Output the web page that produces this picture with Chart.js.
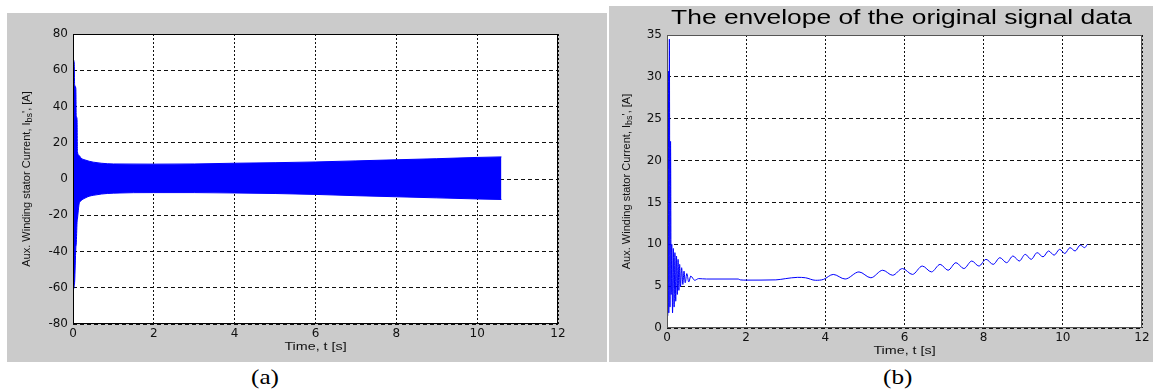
<!DOCTYPE html>
<html>
<head>
<meta charset="utf-8">
<script src="https://cdn.jsdelivr.net/npm/chart.js@4.4.1/dist/chart.umd.min.js"></script>
<style>
body { margin: 0; background: #fff; width: 1153px; height: 392px; position: relative; overflow: hidden; }
canvas { position: absolute; background: #cbcbcb; }
#chart-a { left: 7px; top: 13px; }
#chart-b { left: 609px; top: 6px; }
.tag { position: absolute; font-family: "Liberation Serif", serif; font-size: 21px; line-height: 21px; color: #000; transform: scaleX(1.2); transform-origin: left top; }
</style>
</head>
<body>
<canvas id="chart-a" width="600" height="349"></canvas>
<canvas id="chart-b" width="544" height="356"></canvas>
<div class="tag" style="left:251px;top:367px">(a)</div>
<div class="tag" style="left:883px;top:367px">(b)</div>
<script>
// axis ticks
const xTickVals = [0, 2, 4, 6, 8, 10, 12];
const yTickValsA = [-80, -60, -40, -20, 0, 20, 40, 60, 80];
const yTickValsB = [0, 5, 10, 15, 20, 25, 30, 35];

// (a) original signal, drawn as its upper / lower bounds
const timeA  = [0, 0.03, 0.04, 0.07, 0.08, 0.1, 0.11, 0.15, 0.2, 0.3, 0.4, 0.5, 0.7, 1, 2, 3, 4, 5, 6, 7, 8, 9, 10, 10.6];
const upperA = [66, 64, 52, 50, 35, 33, 15, 13, 11.5, 10.5, 9.8, 9.3, 8.7, 8.3, 8.2, 8.3, 8.7, 9.0, 9.4, 10.0, 10.6, 11.2, 11.9, 12.2];
const lowerA = [-62, -59, -57, -38, -36, -24, -22, -14, -12, -10.5, -9.5, -9, -8.3, -7.8, -7.5, -7.5, -7.7, -8.0, -8.5, -9.2, -9.8, -10.4, -11.0, -11.3];

// (b) envelope
const timeB = [0, 0.02, 0.035, 0.045, 0.06, 0.075, 0.09, 0.105, 0.12, 0.14,
  0.16, 0.18, 0.2, 0.22, 0.24, 0.26, 0.28, 0.3, 0.32, 0.34,
  0.37, 0.4, 0.43, 0.46, 0.5, 0.55, 0.6, 0.7, 0.8, 1.0,
  1.8, 1.85, 2.0, 2.75, 3.0, 3.3, 3.5, 3.75, 3.95, 4.2,
  4.5, 4.85, 5.15, 5.45, 5.7, 5.95, 6.2, 6.45, 6.68, 6.9,
  7.1, 7.3, 7.5, 7.7, 7.88, 8.06, 8.24, 8.41, 8.58, 8.74,
  8.9, 9.05, 9.2, 9.35, 9.5, 9.64, 9.78, 9.92, 10.05, 10.18,
  10.31, 10.44, 10.55, 10.62];
const envB = [1.8, 1.5, 30.7, 1.8, 34.5, 2.5, 22.3, 4.0, 10.0, 1.8,
  9.5, 2.5, 9.0, 3.2, 8.6, 4.0, 8.2, 4.5, 7.6, 4.9,
  7.2, 5.2, 6.8, 5.4, 6.5, 5.5, 6.2, 5.7, 5.9, 5.85,
  5.85, 5.75, 5.72, 5.75, 5.9, 6.05, 6.0, 5.7, 5.8, 6.4,
  5.85, 6.7, 6.0, 6.9, 6.3, 7.1, 6.4, 7.4, 6.7, 7.6,
  6.9, 7.8, 7.1, 8.0, 7.4, 8.2, 7.6, 8.4, 7.8, 8.6,
  8.0, 8.8, 8.2, 9.0, 8.5, 9.2, 8.7, 9.4, 8.9, 9.6,
  9.2, 9.9, 9.6, 10.0];

const tickFont = { family: 'DejaVu Sans', size: 12 };

// white plot box, black frame, axis titles
function matlabLook(frameColor, yTitleX, title) {
  return {
    id: 'matlabLook',
    beforeDraw(chart) {
      const { ctx, chartArea: a } = chart;
      ctx.save();
      ctx.fillStyle = '#fff';
      ctx.fillRect(a.left, a.top, a.width, a.height);
      ctx.restore();
    },
    afterDraw(chart) {
      const { ctx, chartArea: a } = chart;
      ctx.save();
      ctx.strokeStyle = frameColor;
      ctx.lineWidth = 1;
      ctx.strokeRect(a.left + 0.5, a.top + 0.5, a.width - 1, a.height - 1);

      const midX = (a.left + a.right) / 2;
      ctx.fillStyle = '#111';
      ctx.textAlign = 'center';
      ctx.textBaseline = 'middle';
      ctx.font = '11px "Liberation Sans"';
      ctx.save();
      ctx.translate(midX, a.bottom + 23);
      ctx.scale(1.3, 1);
      ctx.fillText('Time, t [s]', 0, 0);
      ctx.restore();

      if (title) {
        ctx.save();
        ctx.fillStyle = '#000';
        ctx.font = '20px "Liberation Sans"';
        ctx.textBaseline = 'alphabetic';
        ctx.translate(midX - 3, a.top - 11);
        ctx.scale(1.32, 1);
        ctx.fillText(title, 0, 0);
        ctx.restore();
      }

      // y title with subscript
      ctx.save();
      ctx.translate(yTitleX, (a.top + a.bottom) / 2);
      ctx.rotate(-Math.PI / 2);
      ctx.textAlign = 'left';
      const p1 = 'Aux. Winding stator Current, I', sub = 'bs', p3 = "', [A]";
      ctx.font = '11px "Liberation Sans"';
      const w1 = ctx.measureText(p1).width, w3 = ctx.measureText(p3).width;
      ctx.font = '9px "Liberation Sans"';
      const w2 = ctx.measureText(sub).width;
      let x = -(w1 + w2 + w3) / 2;
      ctx.font = '11px "Liberation Sans"';
      ctx.fillText(p1, x, 0);
      ctx.font = '9px "Liberation Sans"';
      ctx.fillText(sub, x + w1, 3);
      ctx.font = '11px "Liberation Sans"';
      ctx.fillText(p3, x + w1 + w2, 0);
      ctx.restore();
      ctx.restore();
    }
  };
}

function axes(yTicks, yWidth, xHeight) {
  return {
    x: {
      type: 'linear', min: 0, max: 12,
      afterBuildTicks: s => { s.ticks = xTickVals.map(v => ({ value: v })); },
      afterFit: s => { s.height = xHeight; },
      grid: { color: '#111', lineWidth: 1, drawTicks: false },
      border: { display: false, dash: [2, 2] },
      ticks: { font: tickFont, color: '#111', padding: 3, maxRotation: 0, autoSkip: false }
    },
    y: {
      type: 'linear', min: yTicks[0], max: yTicks[yTicks.length - 1],
      afterBuildTicks: s => { s.ticks = yTicks.map(v => ({ value: v })); },
      afterFit: s => { s.width = yWidth; },
      grid: { color: '#111', lineWidth: 1, drawTicks: false },
      border: { display: false, dash: [4, 3] },
      ticks: { font: tickFont, color: '#111', padding: 5, autoSkip: false }
    }
  };
}

// (a)
new Chart('chart-a', {
  type: 'line',
  data: {
    datasets: [{
      data: timeA.map((t, i) => ({ x: t, y: upperA[i] })),
      borderColor: '#0000ff', backgroundColor: '#0000ff', borderWidth: 1,
      pointRadius: 0, fill: '+1', cubicInterpolationMode: 'monotone'
    }, {
      data: timeA.map((t, i) => ({ x: t, y: lowerA[i] })),
      borderColor: '#0000ff', borderWidth: 1,
      pointRadius: 0, fill: false, cubicInterpolationMode: 'monotone'
    }]
  },
  options: {
    responsive: false, animation: false, events: [],
    layout: { padding: { left: 0, top: 21, right: 49, bottom: 0 } },
    plugins: { legend: { display: false }, tooltip: { enabled: false } },
    scales: axes(yTickValsA, 66, 38)
  },
  plugins: [matlabLook('#000', 20, null)]
});

// (b)
new Chart('chart-b', {
  type: 'line',
  data: {
    datasets: [{
      data: timeB.map((t, i) => ({ x: t, y: envB[i] })),
      borderColor: '#0000ff', borderWidth: 1,
      pointRadius: 0, fill: false, cubicInterpolationMode: 'monotone'
    }]
  },
  options: {
    responsive: false, animation: false, events: [],
    layout: { padding: { left: 0, top: 29, right: 11, bottom: 0 } },
    plugins: { legend: { display: false }, tooltip: { enabled: false } },
    scales: axes(yTickValsB, 58, 34)
  },
  plugins: [matlabLook('#555', 18, 'The envelope of the original signal data')]
});
</script>
</body>
</html>
